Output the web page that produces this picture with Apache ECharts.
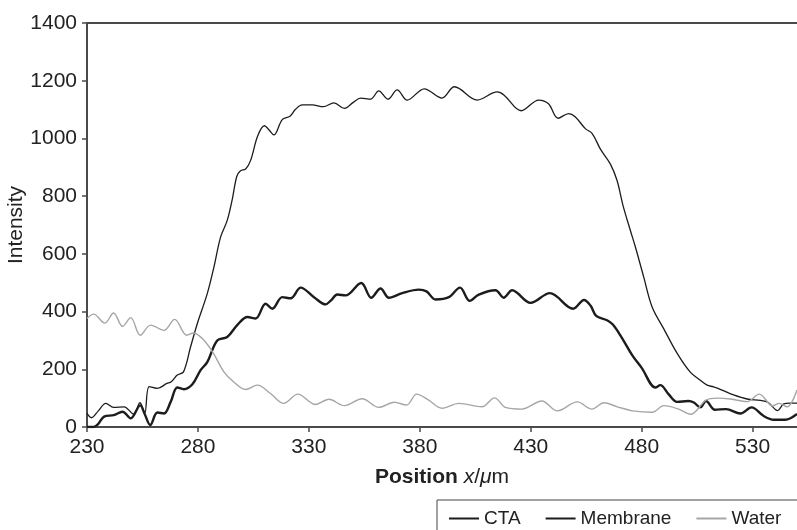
<!DOCTYPE html>
<html>
<head>
<meta charset="utf-8">
<script src="https://cdn.jsdelivr.net/npm/echarts@6/dist/echarts.min.js"></script>
<style>
  html, body { margin: 0; padding: 0; background: #fff; }
  #chart { width: 797px; height: 530px; }
</style>
</head>
<body>
<div id="chart"></div>
<script>
// values
const xTicks = [230, 280, 330, 380, 430, 480, 530]
const yTicks = [0, 200, 400, 600, 800, 1000, 1200, 1400]

const ctaX = [230, 232, 235, 238.5, 242, 246.7, 251, 253.9, 256, 258, 261.7, 266, 268, 270.7, 273.5, 276.7, 279.7, 284.2, 287.2, 290.2, 293.2, 295.5, 297.5, 299.2, 301.5, 303.7, 307, 310, 312, 314.2, 318, 321.5, 324, 327, 331.5, 336.5, 341.3, 346, 350, 353.3, 357.8, 361.5, 365.6, 369.8, 374.3, 382, 390, 395.6, 405.9, 414.9, 418, 425.7, 433.6, 438, 442.3, 447.1, 450, 454.6, 457.7, 461.4, 465.9, 468.9, 471.5, 474.9, 477.2, 480.9, 484.7, 489.9, 496, 501.9, 506.4, 509.5, 512.4, 516.2, 521.4, 527.5, 533.5, 537, 541.3, 544, 547, 550]
const ctaY = [47, 32, 55, 82, 68, 70, 45, 84, 47, 140, 134, 151, 157, 180, 191, 278, 358, 462, 554, 658, 716, 790, 868, 888, 894, 923, 1010, 1044, 1030, 1012, 1065, 1077, 1101, 1116, 1116, 1110, 1123, 1104, 1125, 1140, 1136, 1165, 1136, 1168, 1133, 1172, 1140, 1179, 1133, 1161, 1150, 1096, 1133, 1120, 1070, 1086, 1075, 1034, 1017, 963, 911, 854, 770, 681, 623, 520, 416, 341, 255, 190, 162, 145, 139, 128, 111, 97, 92, 85, 57, 80, 83, 83]

const memX = [230, 233, 235, 237.7, 242, 246, 249.7, 254, 256, 258.5, 261.7, 264.7, 267.7, 270.7, 273.7, 277.5, 281.2, 284.2, 288.7, 293.2, 297.7, 302.3, 306, 310.5, 313.5, 318, 321.8, 326.3, 332.3, 337.5, 340, 342.8, 346.5, 353.6, 358.1, 362.3, 366.1, 372.1, 379.6, 383, 387.1, 393.1, 398.1, 402.5, 406.6, 414.1, 417.8, 421.6, 429.9, 438.6, 449.1, 454, 457, 459.5, 464.4, 467, 471, 475.7, 480, 486.2, 488.4, 492, 496, 501, 503.5, 506.4, 509, 513, 518, 524.5, 529.5, 535, 539.5, 544.7, 550]
const memY = [0, 0, 10, 36, 41, 53, 30, 75, 45, 7, 50, 47, 87, 137, 131, 148, 197, 225, 300, 312, 353, 381, 376, 427, 410, 450, 446, 483, 450, 425, 439, 459, 456, 499, 448, 480, 448, 464, 476, 470, 442, 450, 483, 437, 459, 474, 448, 474, 430, 464, 410, 440, 420, 385, 370, 355, 310, 249, 205, 137, 145, 115, 87, 90, 85, 68, 90, 60, 62, 47, 68, 38, 25, 25, 45]

const waterX = [230, 233, 238, 242, 246, 249.7, 254, 258.7, 264.7, 269.5, 275, 278, 282.7, 287, 291.7, 296, 301.5, 306.8, 312.7, 318.7, 325, 333, 339, 346, 354, 361.5, 368.5, 374, 378.6, 384, 390, 397.6, 408, 413.7, 418.6, 426, 435, 442, 451, 457.5, 463, 469, 476, 484.7, 490, 496.7, 502, 509, 514, 520, 527.5, 533, 539, 542, 545.5, 550]
const waterY = [376, 391, 360, 395, 349, 379, 318, 353, 335, 373, 318, 326, 301, 255, 191, 157, 130, 145, 116, 82, 114, 78, 96, 74, 98, 68, 86, 76, 114, 93, 65, 82, 70, 101, 68, 62, 90, 56, 87, 62, 84, 70, 56, 51, 74, 62, 44, 93, 100, 97, 88, 114, 73, 82, 70, 128]

const pairs = (xs, ys) => xs.map((x, i) => [x, ys[i]])

const chart = echarts.init(document.getElementById('chart'))
const font = 'Liberation Sans, Arial, Helvetica, sans-serif'
const axisColor = '#4a4a4a'
const labelSize = 21

const option = {
  animation: false,
  textStyle: { fontFamily: font },
  grid: { left: 87, top: 23, right: 0, bottom: 103, containLabel: false, outerBoundsMode: 'none' },
  legend: {
    left: 437,
    top: 500,
    width: 420,
    padding: [9, 20, 12, 11],
    itemGap: 24,
    itemWidth: 30,
    itemHeight: 14,
    borderColor: '#444',
    borderWidth: 1,
    borderRadius: 0,
    itemStyle: { opacity: 0 },
    textStyle: { fontSize: 19, color: '#222', fontFamily: font },
    data: ['CTA', 'Membrane', 'Water']
  },
  xAxis: [{
    type: 'value',
    min: 230,
    max: 550,
    interval: 50,
    name: '{b|Position} {i|x}/{i|μ}m',
    nameLocation: 'middle',
    nameGap: 40,
    nameMoveOverlap: false,
    nameTextStyle: {
      rich: {
        b: { fontSize: labelSize, fontWeight: 'bold', color: '#222', fontFamily: font },
        i: { fontSize: labelSize, fontStyle: 'italic', color: '#222', fontFamily: font }
      },
      fontSize: labelSize,
      color: '#222'
    },
    axisLine: { lineStyle: { color: axisColor, width: 2 } },
    axisTick: { length: 5, lineStyle: { color: axisColor, width: 1.5 }, customValues: xTicks },
    axisLabel: { fontSize: labelSize, color: '#222', margin: 10, customValues: xTicks, formatter: v => String(v) },
    splitLine: { show: false }
  }, {
    type: 'value',
    position: 'top',
    min: 230,
    max: 550,
    axisLine: { show: true, onZero: false, lineStyle: { color: axisColor, width: 2 } },
    axisTick: { show: false },
    axisLabel: { show: false },
    splitLine: { show: false }
  }],
  yAxis: {
    type: 'value',
    min: 0,
    max: 1400,
    interval: 200,
    name: 'Intensity',
    nameLocation: 'middle',
    nameGap: 60,
    nameMoveOverlap: false,
    nameTextStyle: { fontSize: labelSize, color: '#222' },
    axisLine: { show: true, lineStyle: { color: axisColor, width: 2 } },
    axisTick: { show: true, length: 5, lineStyle: { color: axisColor, width: 1.5 }, customValues: yTicks },
    axisLabel: { fontSize: labelSize, color: '#222', margin: 10, customValues: yTicks, formatter: v => String(v) },
    splitLine: { show: false }
  },
  series: [{
    name: 'CTA',
    type: 'line',
    data: pairs(ctaX, ctaY),
    smooth: 0.35,
    symbol: 'none',
    lineStyle: { color: '#1c1c1c', width: 1.3 },
    itemStyle: { color: '#1c1c1c' }
  }, {
    name: 'Membrane',
    type: 'line',
    data: pairs(memX, memY),
    smooth: 0.35,
    symbol: 'none',
    lineStyle: { color: '#1c1c1c', width: 2.4 },
    itemStyle: { color: '#1c1c1c' }
  }, {
    name: 'Water',
    type: 'line',
    data: pairs(waterX, waterY),
    smooth: 0.35,
    symbol: 'none',
    lineStyle: { color: '#a6a6a6', width: 1.4 },
    itemStyle: { color: '#a6a6a6' }
  }]
}

chart.setOption(option)
</script>
</body>
</html>
